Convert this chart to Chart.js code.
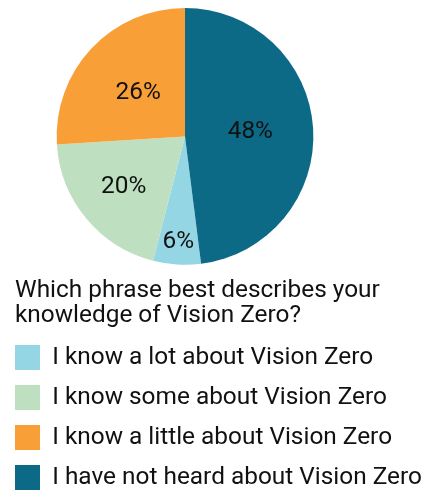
<!DOCTYPE html>
<html>
<head>
<meta charset="utf-8">
<script src="https://cdn.jsdelivr.net/npm/chart.js@4"></script>
<style>
  body { margin: 0; background: #fff; }
  #wrap { width: 423px; height: 499px; position: relative; }
</style>
</head>
<body>
<div id="wrap"><canvas id="myChart"></canvas></div>
<script>
"use strict";

// survey data

const answers = [
  "I know a lot about Vision Zero",
  "I know some about Vision Zero",
  "I know a little about Vision Zero",
  "I have not heard about Vision Zero"
];
const percents = [6, 20, 26, 48];
const colors = ["#95d6e4", "#bee0c0", "#f99f38", "#0c6a87"];
const question = ["Which phrase best describes your", "knowledge of Vision Zero?"];

// how far out each label sits in its slice
const labelSpots = [0.82, 0.62, 0.5, 0.51];

const total = percents.reduce((a, b) => a + b, 0);

// put the percent text on each slice
const sliceLabels = {
  id: "sliceLabels",
  afterDatasetsDraw(chart) {
    const ctx = chart.ctx;
    const arcs = chart.getDatasetMeta(0).data;
    ctx.save();
    ctx.font = "24.4px Roboto";
    ctx.fillStyle = "#111";
    ctx.textAlign = "center";
    ctx.textBaseline = "middle";
    arcs.forEach((arc, i) => {
      const mid = (arc.startAngle + arc.endAngle) / 2;
      const r = arc.outerRadius * labelSpots[i];
      ctx.fillText(percents[i] + "%", arc.x + Math.cos(mid) * r, arc.y + Math.sin(mid) * r);
    });
    ctx.restore();
  }
};

// pie sits left of centre and the question lines up with the boxes
const nudge = {
  id: "nudge",
  afterLayout(chart) {
    chart.chartArea.right = chart.chartArea.left + 370;
    chart.chartArea.width = 370;
    chart.titleBlock.left = 15;
    chart.titleBlock.right = 423;
    chart.titleBlock.width = 408;
  }
};

const config = {
  type: "pie",
  data: {
    labels: answers,
    datasets: [{
      data: percents,
      backgroundColor: colors,
      borderWidth: 0
    }]
  },
  options: {
    responsive: true,
    maintainAspectRatio: false,
    animation: false,
    rotation: 360 * percents[3] / total,
    layout: { padding: { top: 8, left: 0, right: 0, bottom: -1 } },
    plugins: {
      tooltip: { enabled: false },
      title: {
        display: true,
        position: "bottom",
        align: "start",
        weight: 500,
        text: question,
        color: "#111",
        font: { family: "Roboto", size: 24.4, weight: "normal", lineHeight: 1.05 },
        padding: { top: 13, bottom: 1 }
      },
      legend: {
        position: "bottom",
        align: "start",
        labels: {
          color: "#111",
          font: { family: "Roboto", size: 24.4 },
          boxWidth: 25,
          boxHeight: 25,
          padding: 15
        }
      }
    }
  },
  plugins: [sliceLabels, nudge]
};

// rendering

const myChart = new Chart(document.getElementById("myChart"), config);
</script>
</body>
</html>
